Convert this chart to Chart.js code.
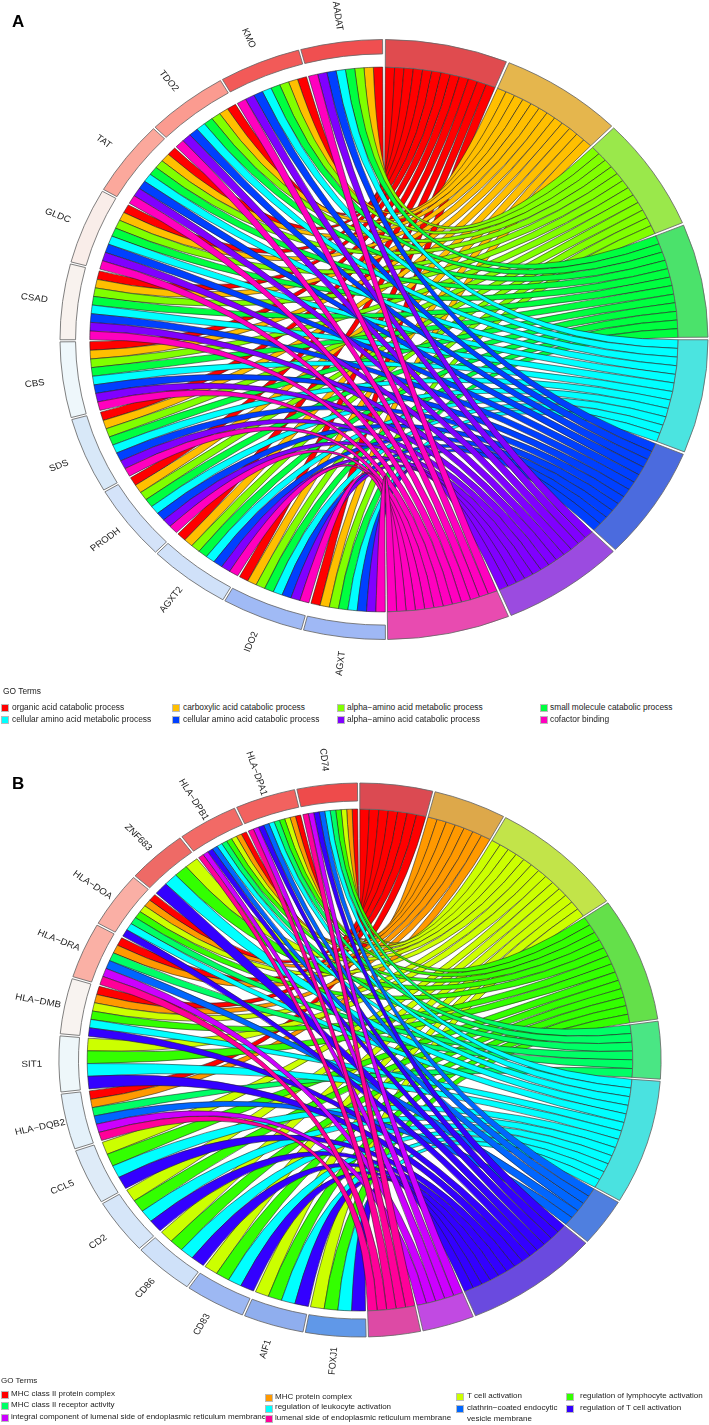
<!DOCTYPE html>
<html>
<head>
<meta charset="utf-8">
<script src="https://cdn.jsdelivr.net/npm/chart.js@4"></script>
<style>
  html, body { margin: 0; padding: 0; background: #fff; width: 709px; height: 1425px; overflow: hidden; }
  body { position: relative; font-family: "Liberation Sans", Arial, sans-serif; color: #222; }
  canvas { position: absolute; left: 0; }
  .txt { position: absolute; white-space: nowrap; font-size: 8.4px; line-height: 12px; }
  .small { font-size: 8px; }
  .swatch { position: absolute; width: 6px; height: 6px; border: 1px solid #bbb; box-sizing: content-box; }
  .panel { position: absolute; left: 0; font-weight: bold; font-size: 17px; line-height: 17px; color: #000; }
</style>
</head>
<body>
<canvas id="chartA" width="709" height="685" style="top:0"></canvas>
<canvas id="chartB" width="709" height="655" style="top:730px"></canvas>
<script>
// panel A
const genesA = ["AADAT", "KMO", "TDO2", "TAT", "GLDC", "CSAD", "CBS", "SDS", "PRODH", "AGXT2", "IDO2", "AGXT"];
const termsA = ["organic acid catabolic process", "carboxylic acid catabolic process", "alpha−amino acid metabolic process", "small molecule catabolic process",
  "cellular amino acid metabolic process", "cellular amino acid catabolic process", "alpha−amino acid catabolic process", "cofactor binding"];
const ribbonColorsA = ["#FF0000", "#FFBF00", "#80FF00", "#00FF40", "#00FFFF", "#0040FF", "#8000FF", "#FF00BF"];
const termRingA = ["#E04B4F", "#E5B64D", "#9AE84B", "#4BE26B", "#4BE4E0", "#4B6BDE", "#9B4BE0", "#E84BB0"];
const geneRingA = ["#F04F50", "#F25A58", "#FB9B90", "#FBA89C", "#F9EDE9", "#F8F2EE", "#EEF7FB", "#D8E8F8", "#D4E3F9", "#D0E1F9", "#A0BAF5", "#9FB8F5"];
// term indexes each gene belongs to
const linksA = [
  [0,1,2,3,4,5,6,7], [0,1,2,3,4,5,6,7], [0,1,2,3,4,5,6,7], [0,1,2,3,4,5,6,7],
  [0,1,2,3,4,5,6,7], [0,1,2,3,4,5,6,7], [0,1,2,3,4,5,6,7], [0,1,2,3,4,5,6,7],
  [0,1,2,3,4,5,6,7], [0,1,2,3,4,5,6,7], [0,1,2,3,4,5,6,7], [0,1,2,3,4,5,6,7]
];

// panel B
const genesB = ["CD74", "HLA−DPA1", "HLA−DPB1", "ZNF683", "HLA−DOA", "HLA−DRA", "HLA−DMB", "SIT1", "HLA−DQB2", "CCL5", "CD2", "CD86", "CD83", "AIF1", "FOXJ1"];
const termsB = ["MHC class II protein complex", "MHC protein complex", "T cell activation", "regulation of lymphocyte activation", "MHC class II receptor activity",
  "regulation of leukocyte activation", "clathrin−coated endocytic vesicle membrane", "regulation of T cell activation",
  "integral component of lumenal side of endoplasmic reticulum membrane", "lumenal side of endoplasmic reticulum membrane"];
const ribbonColorsB = ["#FF0000", "#FF9900", "#CCFF00", "#33FF00", "#00FF66", "#00FFFF", "#0066FF", "#3300FF", "#CC00FF", "#FF0099"];
const termRingB = ["#DB4A52", "#DDA84A", "#C2E449", "#64E04A", "#4AE684", "#4AE2E0", "#4F7FDF", "#6A4ADF", "#C14AE2", "#DD4AA5"];
const geneRingB = ["#EE4B4B", "#F2625F", "#F26A66", "#EE6A66", "#FAAFA5", "#FAB0A5", "#F8F3F0", "#EEF7FA", "#E4F1FA", "#DEEBF8", "#D6E6F9", "#CFE1F9", "#9DB8F3", "#8FAEEE", "#6098E8"];
const linksB = [
  [0,1,2,3,4,5,6,7,8,9], [0,1,2,3,4,5,6,7,8,9], [0,1,2,3,4,5,6,7,8,9],
  [2,3,5,7], [0,1,2,3,4,5,7], [0,1,4,6,8,9], [0,1,2,3,5,7], [2,3,5,7], [0,1,4,6,8,9],
  [2,3,5,7], [2,3,5,7], [2,3,5,7], [2,3,5,7], [2,3,5,7], [2,3,5,7]
];

function drawChord(canvasId, genes, ribbonColors, termRing, geneRing, links, opt) {
  const termCounts = ribbonColors.map((c, t) => links.filter(l => l.includes(t)).length);
  const units = termCounts.reduce((a, b) => a + b, 0);
  const geneValue = units / genes.length;
  const gapDegs = ribbonColors.length * opt.termGap + genes.length * opt.geneGap;
  const sum = 2 * units / (1 - gapDegs / 360);

  // slice list: terms clockwise from the top, then genes from the bottom back up
  const values = [], colors = [], borders = [], ref = [];
  termCounts.forEach((n, t) => {
    values.push(opt.termGap / 360 * sum, n); colors.push("transparent", termRing[t]); borders.push(0, 0.8);
    ref.push(null, { term: t });
  });
  for (let g = genes.length - 1; g >= 0; g--) {
    values.push(opt.geneGap / 360 * sum, geneValue); colors.push("transparent", geneRing[g]); borders.push(0, 0.8);
    ref.push(null, { gene: g });
  }

  const chordPlugin = {
    id: "chord",
    afterDatasetsUpdate(chart) {
      const arcs = chart.getDatasetMeta(0).data;
      arcs.forEach((a, i) => {
        if (ref[i] && ref[i].gene !== undefined) a.innerRadius = a.outerRadius * opt.geneInner;
      });
    },
    beforeDatasetsDraw(chart) {
      const ctx = chart.ctx;
      const arcs = chart.getDatasetMeta(0).data;
      const cx = arcs[0].x, cy = arcs[0].y;
      const r = arcs[0].innerRadius;
      ctx.save();
      ctx.translate(cx, cy);
      ctx.scale(opt.stretch, 1);
      ctx.translate(-cx, -cy);

      const termArc = {}, geneArc = {};
      arcs.forEach((a, i) => {
        if (!ref[i]) return;
        if (ref[i].term !== undefined) termArc[ref[i].term] = a;
        else geneArc[ref[i].gene] = a;
      });
      const px = a => cx + r * Math.cos(a), py = a => cy + r * Math.sin(a);

      ctx.lineWidth = 0.55;
      ctx.strokeStyle = "#222";
      ctx.lineJoin = "round";
      ribbonColors.forEach((col, t) => {
        const tArc = termArc[t];
        const tw = (tArc.endAngle - tArc.startAngle) / termCounts[t];
        let j = 0;
        for (let g = 0; g < genes.length; g++) {
          const k = links[g].indexOf(t);
          if (k < 0) continue;
          const gArc = geneArc[g];
          const gw = (gArc.endAngle - gArc.startAngle) / links[g].length;
          const a1 = gArc.endAngle - k * gw, a0 = a1 - gw;
          const b0 = tArc.startAngle + j * tw, b1 = b0 + tw;
          ctx.beginPath();
          ctx.moveTo(px(a1), py(a1));
          ctx.quadraticCurveTo(cx, cy, px(b0), py(b0));
          ctx.arc(cx, cy, r, b0, b1);
          ctx.quadraticCurveTo(cx, cy, px(a0), py(a0));
          ctx.arc(cx, cy, r, a0, a1);
          ctx.closePath();
          ctx.fillStyle = col;
          ctx.fill();
          ctx.stroke();
          j++;
        }
      });
    },
    afterDatasetsDraw(chart) {
      const ctx = chart.ctx;
      const arcs = chart.getDatasetMeta(0).data;
      const cx = arcs[0].x, cy = arcs[0].y, R = arcs[0].outerRadius;
      ctx.fillStyle = "#222";
      ctx.font = opt.labelSize + 'px "Liberation Sans"';
      ctx.textAlign = "center";
      ctx.textBaseline = "middle";
      arcs.forEach((a, i) => {
        if (!ref[i] || ref[i].gene === undefined) return;
        const th = (a.startAngle + a.endAngle) / 2;
        ctx.save();
        ctx.translate(cx + R * opt.labelAt * Math.cos(th), cy + R * opt.labelAt * Math.sin(th));
        ctx.rotate(th + Math.PI);
        ctx.fillText(genes[ref[i].gene], 0, 0);
        ctx.restore();
      });
      ctx.restore();
    }
  };

  new Chart(document.getElementById(canvasId), {
    type: "doughnut",
    data: {
      labels: ref.map(d => d ? (d.term !== undefined ? "term" + d.term : genes[d.gene]) : ""),
      datasets: [{ data: values, backgroundColor: colors, borderColor: "#666", borderWidth: borders, clip: false }]
    },
    options: {
      responsive: false,
      animation: false,
      events: [],
      rotation: -opt.termGap / 2 + opt.turn,
      cutout: opt.termInner * 100 + "%",
      layout: { padding: opt.padding },
      plugins: { legend: { display: false }, tooltip: { enabled: false } }
    },
    plugins: [chordPlugin]
  });
}

drawChord("chartA", genesA, ribbonColorsA, termRingA, geneRingA, linksA, {
  termGap: 0.5, geneGap: 0.4, turn: 0, stretch: 1.08, termInner: 0.908, geneInner: 0.952, labelAt: 1.088, labelSize: 9,
  padding: { left: 83.6, right: 24.6, top: 39.1, bottom: 45.1 }
});
drawChord("chartB", genesB, ribbonColorsB, termRingB, geneRingB, linksB, {
  termGap: 0.45, geneGap: 0.45, turn: -0.26, stretch: 1.087, termInner: 0.906, geneInner: 0.935, labelAt: 1.09, labelSize: 9,
  padding: { left: 82.6, right: 71.6, top: 52.6, bottom: 47.6 }
});

// legends and panel letters as page text
function addText(s, x, y, cls) {
  const d = document.createElement("div");
  d.className = cls || "txt";
  d.textContent = s;
  d.style.left = x + "px";
  d.style.top = y + "px";
  document.body.appendChild(d);
}
function addSwatch(col, x, y) {
  const d = document.createElement("div");
  d.className = "swatch";
  d.style.background = col;
  d.style.left = x + "px";
  d.style.top = y + "px";
  document.body.appendChild(d);
}
function legendRow(term, col, sx, tx, sy, ty, cls) {
  addSwatch(col, sx, sy);
  addText(term, tx, ty, cls);
}

addText("A", 12, 13, "panel");
addText("B", 12, 775, "panel");

addText("GO Terms", 3, 685);
legendRow(termsA[0], ribbonColorsA[0], 1, 12, 704, 701);
legendRow(termsA[1], ribbonColorsA[1], 172, 183, 704, 701);
legendRow(termsA[2], ribbonColorsA[2], 337, 347, 704, 701);
legendRow(termsA[3], ribbonColorsA[3], 540, 550, 704, 701);
legendRow(termsA[4], ribbonColorsA[4], 1, 12, 716, 713);
legendRow(termsA[5], ribbonColorsA[5], 172, 183, 716, 713);
legendRow(termsA[6], ribbonColorsA[6], 337, 347, 716, 713);
legendRow(termsA[7], ribbonColorsA[7], 540, 550, 716, 713);

const sm = "txt small";
addText("GO Terms", 1, 1375, sm);
legendRow(termsB[0], ribbonColorsB[0], 1, 11, 1391, 1388, sm);
legendRow(termsB[4], ribbonColorsB[4], 1, 11, 1402, 1399, sm);
legendRow(termsB[8], ribbonColorsB[8], 1, 11, 1414, 1411, sm);
legendRow(termsB[1], ribbonColorsB[1], 265, 275, 1394, 1391, sm);
legendRow(termsB[5], ribbonColorsB[5], 265, 275, 1405, 1401, sm);
legendRow(termsB[9], ribbonColorsB[9], 265, 275, 1415, 1412, sm);
legendRow(termsB[2], ribbonColorsB[2], 456, 467, 1393, 1390, sm);
addSwatch(ribbonColorsB[6], 456, 1405);
addText("clathrin−coated endocytic", 467, 1402, sm);
addText("vesicle membrane", 467, 1413, sm);
legendRow(termsB[3], ribbonColorsB[3], 566, 580, 1393, 1390, sm);
legendRow(termsB[7], ribbonColorsB[7], 566, 580, 1405, 1402, sm);
</script>
</body>
</html>
